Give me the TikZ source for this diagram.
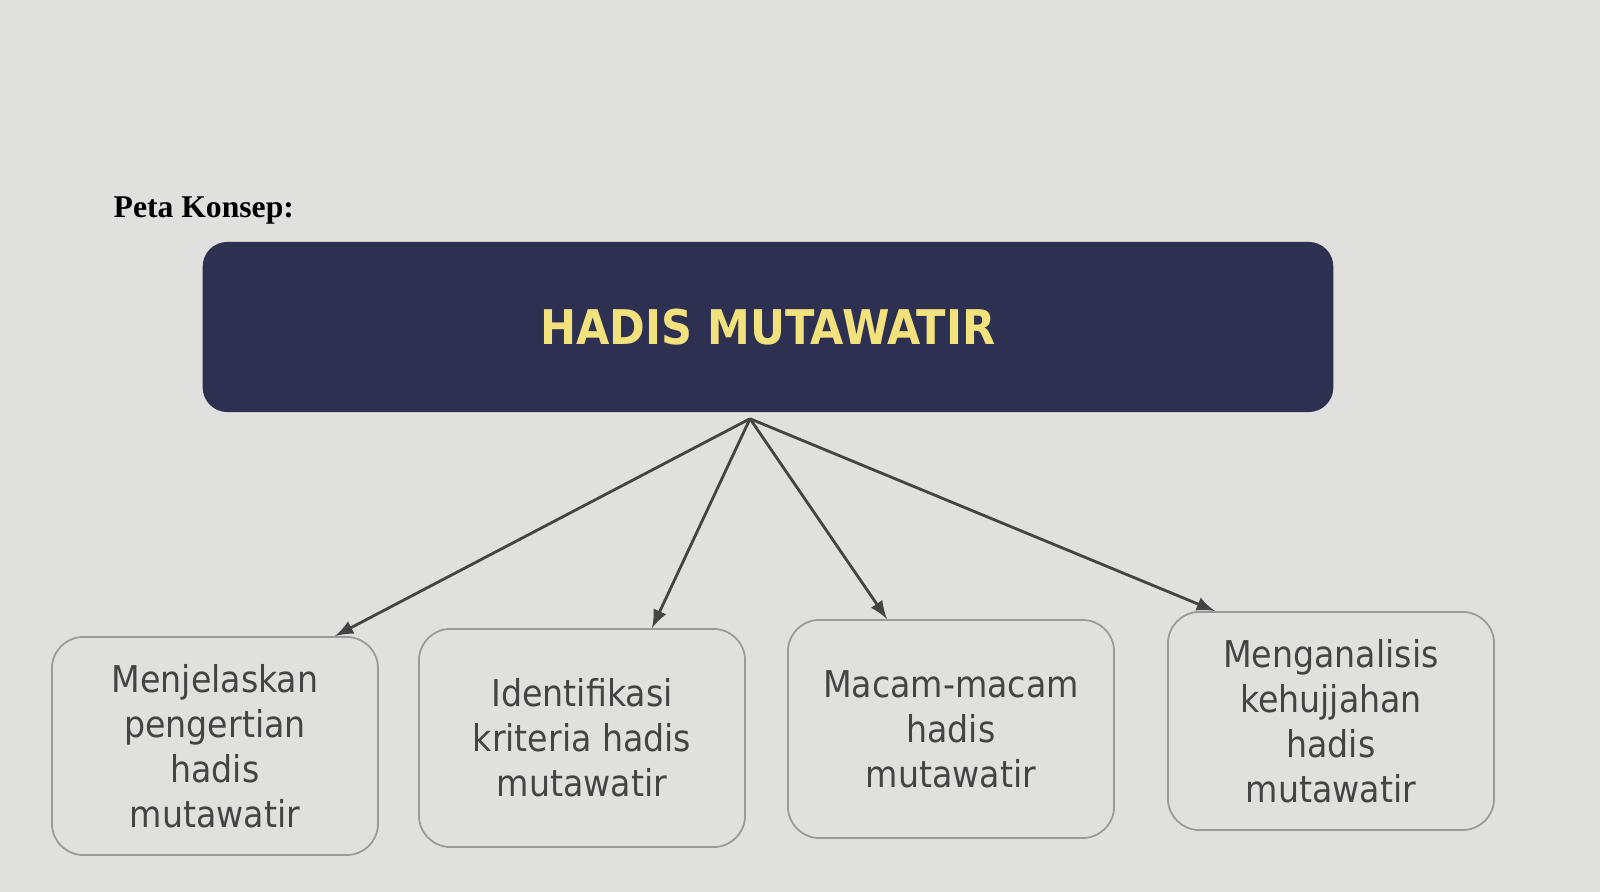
\documentclass[tikz,border=0pt]{standalone}
\usepackage{fontspec}
\setmainfont{DejaVu Sans Condensed}
\newfontfamily\petafont{Liberation Serif}
\usetikzlibrary{calc}

\definecolor{layar}{HTML}{E0E0DF}
\definecolor{biru}{HTML}{2E3052}
\definecolor{kuning}{HTML}{F2E27E}
\definecolor{tulisan}{HTML}{444444}
\definecolor{garis}{HTML}{9A9A9A}

\tikzset{
    konsep/.style={draw=garis, line width=0.5pt, rounded corners=9pt,
        minimum width=3.26cm, minimum height=2.18cm, align=center,
        text=tulisan, font=\fontsize{10.5}{12.8}\selectfont},
    panah/.style={draw=tulisan, line width=0.8pt, ->, >=latex}
}

\begin{document}
\begin{tikzpicture}[x=0.01cm, y=-0.01cm]
        \fill [layar] (0,0) rectangle (1600,892);
        \node [anchor=base west, inner sep=0pt,
            font=\petafont\bfseries\fontsize{9}{11}\selectfont] (peta) at (113,218) {Peta Konsep:};
        \node [fill=biru, rounded corners=7pt, minimum width=11.3cm, minimum height=1.7cm,
            text=kuning, font=\bfseries\fontsize{13.6}{15}\selectfont] (judul) at (768,327)
            {HADIS MUTAWATIR};
        \coordinate (pusat) at ($(judul.south)+(-18,6)$);
        \node [konsep] (k1) at (215,746) {Menjelaskan\\pengertian\\hadis\\mutawatir};
        \node [konsep] (k2) at (582,738) {Identifikasi\\kriteria hadis\\mutawatir};
        \node [konsep] (k3) at (951,729) {Macam-macam\\hadis\\mutawatir};
        \node [konsep] (k4) at (1331,721) {Menganalisis\\kehujjahan\\hadis\\mutawatir};
        \draw [panah] (pusat) -- ($(k1.north)+(120,0)$);
        \draw [panah] (pusat) -- ($(k2.north)+(70,0)$);
        \draw [panah] (pusat) -- ($(k3.north)+(-64,0)$);
        \draw [panah] (pusat) -- ($(k4.north)+(-116,0)$);
\end{tikzpicture}
\end{document}
